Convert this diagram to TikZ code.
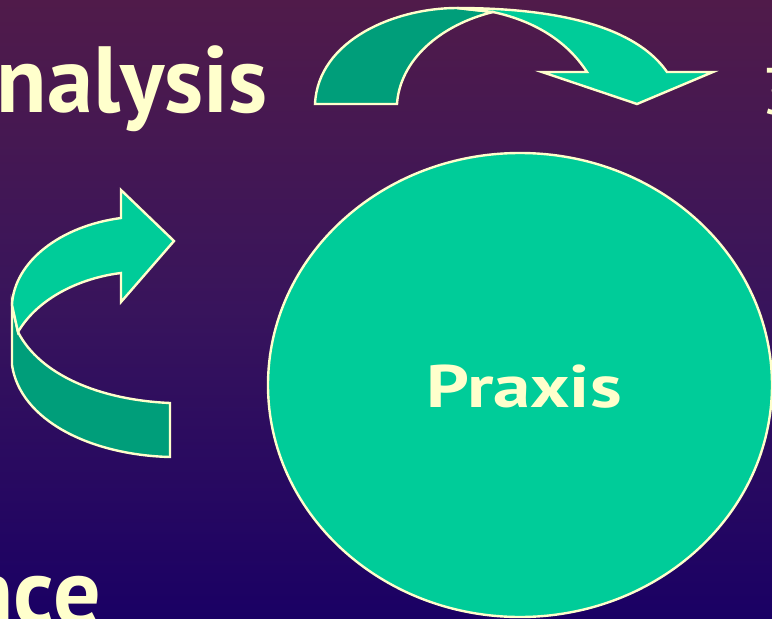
\documentclass[tikz,border=0pt]{standalone}
\usepackage{fontspec}
\setmainfont{PT Sans}
\usetikzlibrary{shapes.geometric}
\definecolor{bgtop}{RGB}{80,27,74}
\definecolor{bgmid}{RGB}{56,20,92}
\definecolor{bgbot}{RGB}{26,0,100}
\definecolor{lgreen}{RGB}{0,204,153}
\definecolor{dgreen}{RGB}{0,158,122}
\definecolor{cream}{RGB}{255,255,204}
\tikzset{
  band/.style={draw=cream, line width=2.4pt, line join=miter},
  lbl/.style={text=cream, inner sep=0pt, font=\bfseries},
}
\begin{document}
\begin{tikzpicture}[x=1pt,y=-1pt]
\useasboundingbox (0,0) rectangle (772,619);
\shade[top color=bgtop, bottom color=bgbot, middle color=bgmid] (0,0) rectangle (772,619);
% texts
\node[lbl, anchor=base east, font=\bfseries\fontsize{94}{100}\selectfont] (analysis) at (268,112) {\scalebox{0.985}[1]{Analysis}};
\node[lbl, anchor=base east, font=\bfseries\fontsize{94}{100}\selectfont] (nce) at (101,624) {nce};
\node[lbl, anchor=base west, font=\fontsize{66}{72}\selectfont] (three) at (761,114) {3};
% top curved arrow
\path[band, fill=dgreen] (315,104) .. controls (318,40) and (395,8) .. (457,8) -- (493,12)
  .. controls (440,25) and (400,60) .. (397,104) -- cycle;
\path[band, fill=lgreen] (457,8) .. controls (590,8) and (645,40) .. (667,72) -- (713,72) -- (637,104)
  -- (542,72) -- (587,72) .. controls (565,38) and (530,20) .. (493,12) -- cycle;
% left curved arrow
\path[band, fill=dgreen] (12,305) -- (12,365) .. controls (20,420) and (90,455) .. (170,457)
  -- (170,403) .. controls (100,400) and (40,375) .. (18,332) -- cycle;
\path[band, fill=lgreen] (121,218) .. controls (60,226) and (14,262) .. (12,305) -- (18,332)
  .. controls (38,298) and (80,278) .. (121,273) -- (121,302) -- (174,241) -- (121,190) -- cycle;
% circle
\node[ellipse, draw=cream, line width=2.4pt, fill=lgreen, minimum width=504pt, minimum height=464pt, inner sep=0pt] (praxisc) at (520,385) {};
\node[lbl, font=\bfseries\fontsize{60}{66}\selectfont, anchor=base] (praxis) at (524,407) {\scalebox{1.25}[1]{Praxis}};
\end{tikzpicture}
\end{document}
